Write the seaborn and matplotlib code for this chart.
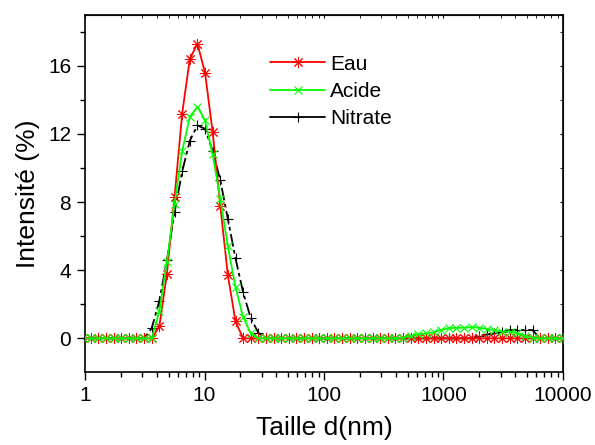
import numpy as np
import pandas as pd
import seaborn as sns
import matplotlib.pyplot as plt
from matplotlib.lines import Line2D
from matplotlib.ticker import LogLocator, FixedLocator, NullFormatter

sns.set_style("ticks")
plt.rcParams["font.family"] = ["Liberation Sans", "DejaVu Sans"]
plt.rcParams["text.color"] = "black"
plt.rcParams["axes.labelcolor"] = "black"
plt.rcParams["xtick.color"] = "black"
plt.rcParams["ytick.color"] = "black"

# size classes (nm)
sizes = [0.9649, 1.117, 1.294, 1.499, 1.736, 2.010, 2.328, 2.696, 3.122, 3.615,
         4.187, 4.849, 5.615, 6.503, 7.531, 8.721, 10.10, 11.70, 13.54, 15.69,
         18.17, 21.04, 24.36, 28.21, 32.67, 37.84, 43.82, 50.75, 58.77, 68.06,
         78.82, 91.28, 105.7, 122.4, 141.8, 164.2, 190.1, 220.2, 255.0, 295.3,
         342.0, 396.1, 458.7, 531.2, 615.1, 712.4, 825.0, 955.4, 1106, 1281,
         1484, 1718, 1990, 2305, 2669, 3091, 3580, 4145, 4801, 5560,
         6439, 7456, 8635, 10000]

eau = [0, 0, 0, 0, 0, 0, 0, 0, 0, 0,
       0.7, 3.8, 8.3, 13.2, 16.4, 17.3, 15.6, 12.1, 7.8, 3.7,
       1.0, 0, 0, 0, 0, 0, 0, 0, 0, 0,
       0, 0, 0, 0, 0, 0, 0, 0, 0, 0,
       0, 0, 0, 0, 0, 0, 0, 0, 0, 0,
       0, 0, 0, 0, 0, 0, 0, 0, 0, 0,
       0, 0, 0, 0]

acide = [0, 0, 0, 0, 0, 0, 0, 0, 0, 0,
         1.6, 4.5, 7.9, 11.0, 13.0, 13.6, 12.8, 10.8, 8.2, 5.4,
         3.0, 1.25, 0.3, 0, 0, 0, 0, 0, 0, 0,
         0, 0, 0, 0, 0, 0, 0, 0, 0, 0,
         0, 0, 0.05, 0.15, 0.25, 0.3, 0.35, 0.5, 0.6, 0.62,
         0.62, 0.66, 0.62, 0.55, 0.49, 0.39, 0.39, 0.29, 0.15, 0.04,
         0, 0, 0, 0]

nitrate = [0, 0, 0, 0, 0, 0, 0, 0, 0, 0.6,
           2.2, 4.6, 7.4, 9.8, 11.6, 12.5, 12.3, 11.0, 9.3, 7.0,
           4.7, 2.7, 1.2, 0.33, 0, 0, 0, 0, 0, 0,
           0, 0, 0, 0, 0, 0, 0, 0, 0, 0,
           0, 0, 0, 0, 0, 0, 0, 0, 0, 0,
           0, 0, 0.15, 0.23, 0.29, 0.39, 0.49, 0.49, 0.49, 0.49,
           0, 0, 0, 0]

df = pd.DataFrame({"size": sizes, "Eau": eau, "Acide": acide, "Nitrate": nitrate})

fig = plt.figure(figsize=(5.95, 4.45), dpi=100)
ax = fig.add_axes([0.1429, 0.163, 0.8033, 0.804])

asterisk = (8, 2, 0)
red, green, black = "#ff0000", "#00ff00", "black"

sns.lineplot(data=df, x="size", y="Nitrate", ax=ax, color=black, lw=1.3,
             linestyle=(0, (7, 2, 2, 2)), marker="+", markersize=7,
             markeredgewidth=0.8, markeredgecolor=black, zorder=3)
sns.lineplot(data=df, x="size", y="Eau", ax=ax, color=red, lw=1.3,
             marker=asterisk, markersize=8, markeredgewidth=0.7,
             markeredgecolor=red, zorder=4)
sns.lineplot(data=df, x="size", y="Acide", ax=ax, color=green, lw=1.3,
             marker="x", markersize=6, markeredgewidth=0.8,
             markeredgecolor=green, zorder=5)

ax.set_xscale("log")
ax.set_xlim(1, 10000)
ax.set_ylim(-2, 19)
ax.set_xticks([1, 10, 100, 1000, 10000])
ax.set_xticklabels(["1", "10", "100", "1000", "10000"])
ax.xaxis.set_minor_locator(LogLocator(base=10, subs=np.arange(2, 10)))
ax.xaxis.set_minor_formatter(NullFormatter())
ax.set_yticks([0, 4, 8, 12, 16])
ax.yaxis.set_minor_locator(FixedLocator([2, 6, 10, 14, 18]))

ax.tick_params(which="major", direction="out", length=6, width=1.0,
               labelsize=15, pad=4)
ax.tick_params(which="minor", direction="out", length=3.5, width=1.0)
ax.tick_params(which="both", top=False, right=False)

# small ticks on top/right like the original
ax_top = ax.secondary_xaxis("top")
ax_top.set_xticks([1, 10, 100, 1000, 10000])
ax_top.xaxis.set_minor_locator(LogLocator(base=10, subs=np.arange(2, 10)))
ax_top.tick_params(which="both", direction="in", length=2.5, labeltop=False)
ax_top.set_xticklabels([])
ax_right = ax.secondary_yaxis("right")
ax_right.set_yticks([0, 4, 8, 12, 16])
ax_right.yaxis.set_minor_locator(FixedLocator([2, 6, 10, 14, 18]))
ax_right.tick_params(which="both", direction="in", length=2.5, labelright=False)
ax_right.set_yticklabels([])

for s in ax.spines.values():
    s.set_linewidth(1.2)
    s.set_color("black")

ax.set_xlabel("Taille d(nm)", fontsize=19, labelpad=8)
ax.set_ylabel("Intensité (%)", fontsize=19, labelpad=6)

handles = [
    Line2D([], [], color=red, lw=1.3, marker=asterisk, markersize=8, mec=red, mew=0.7),
    Line2D([], [], color=green, lw=1.3, marker="x", markersize=6, mec=green, mew=0.8),
    Line2D([], [], color=black, lw=1.3, marker="+", markersize=7, mec=black, mew=0.8),
]
ax.legend(handles, ["Eau", "Acide", "Nitrate"], loc="upper left",
          bbox_to_anchor=(0.387, 0.888), frameon=False, fontsize=15,
          borderpad=0, borderaxespad=0, handlelength=2.65,
          handletextpad=0.25, labelspacing=0.4)

plt.savefig("out.png", dpi=100)
